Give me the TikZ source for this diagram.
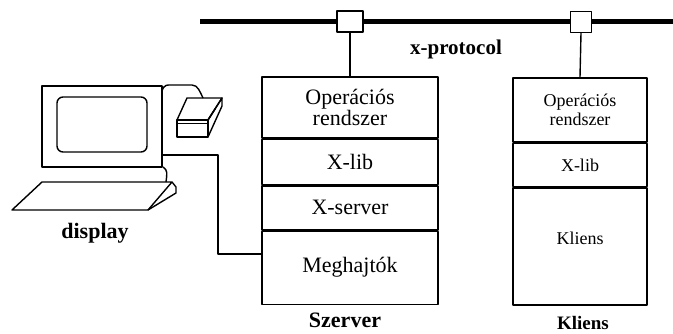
\documentclass[tikz,border=0pt]{standalone}
\usepackage{fontspec}
\setmainfont{Liberation Serif}
\begin{document}
\begin{tikzpicture}[x=1pt,y=-1pt,line join=round,
  wire/.style={line width=1.4pt},
  layer/.style={draw,line width=1.4pt,rectangle,inner sep=0pt,align=center},
  big/.style={font=\fontsize{22}{23}\selectfont},
  small/.style={font=\fontsize{18}{22}\selectfont},
  caption/.style={font=\fontsize{22}{24}\selectfont\bfseries},
  port/.style={draw,fill=white,line width=1.4pt,inner sep=0pt}]
\useasboundingbox (0,0) rectangle (673,333);

% network bus with attachment points
\draw[line width=4.5pt] (200,21.5) -- (673,21.5);
\node[port,minimum width=26pt,minimum height=21pt] (ps) at (350,21.5) {};
\node[port,minimum width=21pt,minimum height=21pt] (pc) at (581,22) {};
\node[caption,font=\fontsize{21}{24}\selectfont\bfseries] (xp) at (456,49) {x-protocol};

% server stack
\node[layer,big,minimum width=176pt,minimum height=61pt] (sos) at (350,107.5) {Operációs\\[-2pt]rendszer};
\node[layer,big,minimum width=176pt,minimum height=45pt,anchor=north] (slib) at (sos.south) {X-lib};
\node[layer,big,minimum width=176pt,minimum height=44pt,anchor=north] (ssrv) at (slib.south) {X-server};
\node[layer,big,minimum width=176pt,minimum height=73pt,anchor=north] (sdrv) at (ssrv.south) {Meghajtók};
\node[caption] (slbl) at (345,320) {Szerver};

% client stack
\node[layer,small,minimum width=134pt,minimum height=64pt] (cos) at (580,110) {Operációs\\[-3pt]rendszer};
\node[layer,small,minimum width=134pt,minimum height=43pt,anchor=north] (clib) at (cos.south) {X-lib};
\node[layer,minimum width=134pt,minimum height=117pt,anchor=north] (capp) at (clib.south) {};
\node[small] (ctxt) at (580,238) {Kliens};
\node[caption,font=\fontsize{19}{22}\selectfont\bfseries] (clbl) at (583,323) {Kliens};

% links from the bus
\draw[wire] (ps.south) -- (sos.north);
\draw[wire] (pc.south) -- (cos.north);

% workstation: monitor
\node[draw,line width=1.4pt,minimum width=120pt,minimum height=81pt,inner sep=0pt] (mon) at (102,126.5) {};
\draw[wire,rounded corners=6pt] (57,97) rectangle (147,152);

% mouse-like device and its cable
\draw[wire,fill=white] (177,120) -- (187,98) -- (222,98) -- (208,120) -- cycle;
\draw[wire] (177,120) rectangle (208,137);
\draw[wire] (177,123.5) -- (208,123.5);
\draw[wire] (208,120) -- (222,98) -- (222,106) -- (208,137);
\draw[wire] (215,109) -- (208,120);
\draw[wire] (162,91) .. controls (164,84) and (168,85) .. (172,85) -- (192,85) .. controls (198,85) and (200,92) .. (203,98);

% keyboard and its cable
\draw[wire] (163,167) .. controls (168,170) and (167,174) .. (166,182);
\draw[wire] (42,182) -- (172,182) -- (148,210) -- (12,210) -- cycle;
\draw[wire] (172,182) -- (176,187) -- (176,193) -- (148,210);
\node[caption] (dlbl) at (95,233) {display};

% cable from workstation to the drivers
\coordinate (jack) at (162,155);
\coordinate (drvin) at (262,254);
\draw[wire] (jack) -- (218,155) |- (drvin);
\end{tikzpicture}
\end{document}
